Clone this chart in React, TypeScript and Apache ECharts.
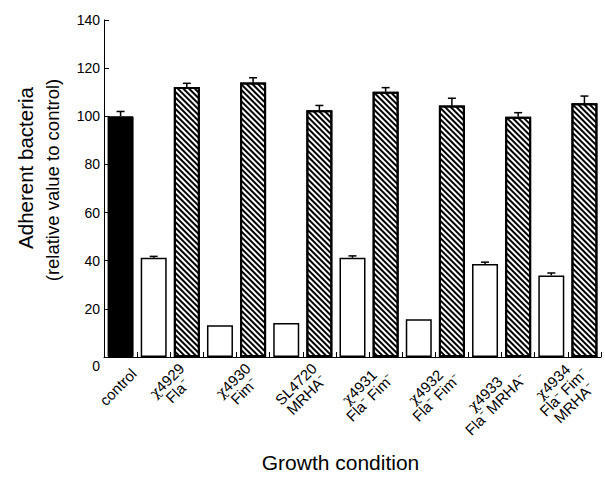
import React, { useEffect, useRef } from "react";
import * as echarts from "echarts";

const strains = ["control", "χ4929", "χ4930", "SL4720", "χ4931", "χ4932", "χ4933", "χ4934"];
const phenotypes = ["", "Fla⁻", "Fim⁻", "MRHA⁻", "Fla⁻ Fim⁻", "Fla⁻ Fim⁻", "Fla⁻ MRHA⁻", "Fla⁻ Fim⁻\nMRHA⁻"];

const controlValue = 100;
const controlError = 2;
const openValues = [41.2, 13.2, 14.1, 41.2, 15.7, 38.6, 33.9];
const openErrors = [0.6, 0, 0, 0.8, 0, 0.8, 1];
const hatchedValues = [112.2, 114, 102.5, 110.2, 104.5, 99.8, 105.4];
const hatchedErrors = [1.5, 2, 2, 1.7, 3, 1.7, 3];

const yMin = 0;
const yMax = 140;
const yInterval = 20;

const yTitleLines = ["Adherent bacteria", "(relative value to control)"];
const xTitle = "Growth condition";

const FONT = '"Liberation Sans", Arial, Helvetica, sans-serif';

export default function App() {
  const ref = useRef<HTMLDivElement>(null);

  useEffect(() => {
    if (!ref.current) return;
    const chart = echarts.init(ref.current, null, { renderer: "svg" });

    const slots: string[] = ["control"];
    strains.slice(1).forEach((s) => {
      slots.push(s + " open");
      slots.push(s + " hatched");
    });
    const nSlots = slots.length;

    const controlData = slots.map((_, i) => (i === 0 ? controlValue : null));
    const openData = slots.map((_, i) => (i > 0 && i % 2 === 1 ? openValues[(i - 1) / 2] : null));
    const hatchedData = slots.map((_, i) => (i > 0 && i % 2 === 0 ? hatchedValues[i / 2 - 1] : null));

    const errData: number[][] = [[0, controlValue, controlError]];
    openValues.forEach((v, g) => errData.push([2 * g + 1, v, openErrors[g]]));
    hatchedValues.forEach((v, g) => errData.push([2 * g + 2, v, hatchedErrors[g]]));

    // label anchor (in slot units) for each group
    const labelPos = strains.map((_, g) => (g === 0 ? 0.9 : 2 * g + 0.5));
    const fmtLine = (l: string) =>
      l.startsWith("χ") ? "{g|χ}{c|" + l.slice(1) + "}" : "{c|" + l + "}";
    const labelText = strains.map((s, g) => {
      const lines = [s];
      if (phenotypes[g]) phenotypes[g].split("\n").forEach((l) => lines.push(l));
      return lines.map(fmtLine).join("\n");
    });

    chart.setOption({
      animation: false,
      backgroundColor: "#fff",
      grid: { left: 104, right: 4, top: 20, bottom: 130, outerBoundsMode: "none" },
      xAxis: [
        {
          type: "category",
          data: slots,
          position: "bottom",
          boundaryGap: true,
          axisLine: { show: true, lineStyle: { color: "#000", width: 1 } },
          axisTick: { show: true, inside: true, length: 5, interval: 0, lineStyle: { color: "#000", width: 1 } },
          axisLabel: { show: false },
          splitLine: { show: false },
        },
        {
          type: "value",
          min: 0,
          max: nSlots,
          position: "bottom",
          axisLine: { show: false },
          axisTick: { show: false },
          splitLine: { show: false },
          name: xTitle,
          nameLocation: "middle",
          nameGap: 95,
          nameTextStyle: { fontFamily: FONT, fontSize: 21, color: "#000", padding: [0, 24, 0, 0] },
          axisLabel: {
            customValues: labelPos,
            rotate: 45,
            margin: 14,
            fontFamily: FONT,
            fontSize: 15,
            color: "#000",
            formatter: (val: number) => {
              const idx = labelPos.findIndex((p) => Math.abs(p - val) < 1e-6);
              return idx >= 0 ? labelText[idx] : "";
            },
            rich: {
              c: { align: "center", fontFamily: FONT, fontSize: 15, lineHeight: 15, color: "#000" },
              g: { align: "center", fontFamily: '"DejaVu Serif", "DejaVu Sans", serif', fontSize: 14, lineHeight: 15, color: "#000" },
            },
          },
        },
      ],
      yAxis: {
        type: "value",
        min: yMin,
        max: yMax,
        interval: yInterval,
        name: "{a|" + yTitleLines[0] + "}\n{b|" + yTitleLines[1] + "}",
        nameLocation: "middle",
        nameGap: 38,
        nameTextStyle: {
          fontFamily: FONT,
          fontSize: 19,
          lineHeight: 27,
          color: "#000",
          padding: [0, 0, 0, 17],
          rich: {
            a: { align: "center", fontFamily: FONT, fontSize: 20.5, lineHeight: 27, color: "#000", padding: [0, 0, 0, 24] },
            b: { align: "center", fontFamily: FONT, fontSize: 18.5, lineHeight: 27, color: "#000" },
          },
        },
        axisLine: { show: true, lineStyle: { color: "#000", width: 1 } },
        axisTick: { show: true, inside: true, length: 5, lineStyle: { color: "#000" } },
        splitLine: { show: false },
        axisLabel: {
          margin: 4,
          fontFamily: FONT,
          fontSize: 14,
          color: "#000",
          formatter: (v: number) => (v === 0 ? "{z|0}" : String(v)),
          rich: { z: { fontFamily: FONT, fontSize: 14, color: "#000", padding: [18, 0, 0, 0] } },
        },
      },
      series: [
        {
          type: "bar",
          name: "control",
          data: controlData,
          barWidth: 26,
          barGap: "-100%",
          itemStyle: { color: "#000", borderColor: "#000", borderWidth: 1 },
        },
        {
          type: "bar",
          name: "open",
          data: openData,
          barWidth: 26,
          barGap: "-100%",
          itemStyle: { color: "#fff", borderColor: "#000", borderWidth: 1.5 },
        },
        {
          type: "bar",
          name: "hatched",
          data: hatchedData,
          barWidth: 26,
          barGap: "-100%",
          itemStyle: {
            color: "#fff",
            borderColor: "#000",
            borderWidth: 2,
            decal: {
              symbol: "rect",
              symbolSize: 1,
              dashArrayX: [1, 0],
              dashArrayY: [1.6, 1.6],
              rotation: Math.PI / 4,
              color: "#000",
              backgroundColor: "#fff",
            },
          },
        },
        {
          type: "custom",
          name: "error",
          xAxisIndex: 0,
          data: errData,
          z: 5,
          renderItem: (params: any, api: any) => {
            const x = api.value(0);
            const v = api.value(1);
            const e = api.value(2);
            if (!e) return null;
            const base = api.coord([x, v]);
            const top = api.coord([x, v + e]);
            const hw = 4;
            return {
              type: "group",
              children: [
                {
                  type: "line",
                  shape: { x1: base[0], y1: base[1], x2: top[0], y2: top[1] },
                  style: { stroke: "#000", lineWidth: 1.5 },
                },
                {
                  type: "line",
                  shape: { x1: top[0] - hw, y1: top[1], x2: top[0] + hw, y2: top[1] },
                  style: { stroke: "#000", lineWidth: 1.5 },
                },
              ],
            };
          },
        },
      ],
    });

    return () => chart.dispose();
  }, []);

  return (
    <div
      ref={ref}
      style={{ position: "absolute", left: 0, top: 0, width: 605, height: 487 }}
    />
  );
}
